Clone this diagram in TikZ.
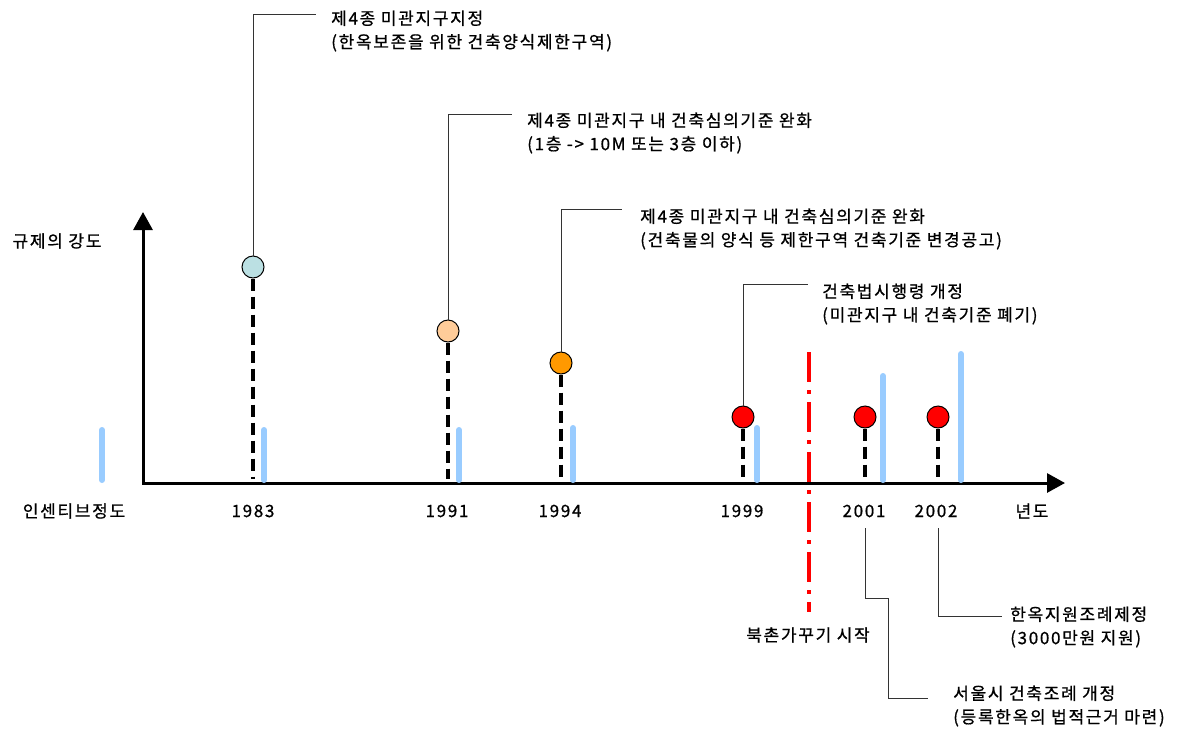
\documentclass[tikz,border=0pt]{standalone}
\usepackage{fontspec}
\setmainfont{Noto Sans CJK KR}[LetterSpace=10,FakeBold=0.8]
\usetikzlibrary{arrows.meta}
\definecolor{barblue}{RGB}{153,204,255}
\definecolor{c83}{RGB}{187,224,227}
\definecolor{c91}{RGB}{255,204,153}
\definecolor{c94}{RGB}{255,153,0}
\definecolor{leadgray}{RGB}{51,51,51}
\tikzset{
  txt/.style={inner sep=0pt, font=\fontsize{17}{23.5}\selectfont, align=left},
  lbl/.style={inner sep=0pt, font=\fontsize{17}{20}\selectfont},
  axis/.style={line width=3pt, line join=miter, {Triangle[length=18pt,width=19pt]}-{Triangle[length=18pt,width=19pt]}},
  dot/.style={circle, draw=black, line width=1pt, minimum size=22pt, inner sep=0pt},
  leader/.style={draw=leadgray, line width=1pt},
  stem/.style={line width=4pt, dash pattern=on 12pt off 6pt},
  bar/.style={draw=barblue, line width=6pt, line cap=round},
  redline/.style={draw=red, line width=4pt, dash pattern=on 30pt off 8pt on 4pt off 8pt}
}
\begin{document}
\begin{tikzpicture}[x=1pt,y=-1pt]
\useasboundingbox (0,0) rectangle (1180,729);
% axes
\coordinate (ytip) at (143,212);
\coordinate (O) at (143,483);
\coordinate (xtip) at (1065,483);
\draw[axis] (ytip) -- (O) -- (xtip);
\node[lbl] (ylab) at (57,241) {규제의 강도};
\node[lbl] (xlab) at (1032,511) {년도};
\node[lbl] (inc) at (74,511) {인센티브정도};
% year labels
\node[lbl] (y83) at (253,511) {1983};
\node[lbl] (y91) at (447,511) {1991};
\node[lbl] (y94) at (560,511) {1994};
\node[lbl] (y99) at (742,511) {1999};
\node[lbl] (y01) at (864,511) {2001};
\node[lbl] (y02) at (936,511) {2002};
% blue bars
\coordinate (b0a) at (102,430); \coordinate (b0b) at (102,480);
\coordinate (b1a) at (264,430); \coordinate (b1b) at (264,480);
\coordinate (b2a) at (459,430); \coordinate (b2b) at (459,480);
\coordinate (b3a) at (573,428); \coordinate (b3b) at (573,480);
\coordinate (b4a) at (757,428); \coordinate (b4b) at (757,480);
\coordinate (b5a) at (883,376); \coordinate (b5b) at (883,480);
\coordinate (b6a) at (961,354); \coordinate (b6b) at (961,480);
\foreach \i in {0,...,6} {\draw[bar] (b\i a) -- (b\i b);}
% red dash-dot line
\coordinate (r1) at (809,352);
\coordinate (r2) at (809,612);
\draw[redline] (r1) -- (r2);
\node[lbl] (buk) at (808,635) {북촌가꾸기 시작};
% circles
\node[dot, fill=c83] (c83) at (253,267) {};
\node[dot, fill=c91] (c91) at (448,331) {};
\node[dot, fill=c94] (c94) at (561,363) {};
\node[dot, fill=red] (c99) at (743,417) {};
\node[dot, fill=red] (c01) at (865,417) {};
\node[dot, fill=red] (c02) at (938,417) {};
% stems
\foreach \c in {83,91,94,99,01,02} {
  \draw[stem] (c\c.south) -- (c\c.south |- 0,479);
}
% top leaders and texts
\coordinate (k83) at (316,14);
\node[txt, anchor=west] (t83) at (331,31) {제4종 미관지구지정\\(한옥보존을 위한 건축양식제한구역)};
\draw[leader] (c83.north) |- (k83);
\coordinate (k91) at (512,114);
\node[txt, anchor=west] (t91) at (527,133) {제4종 미관지구 내 건축심의기준 완화\\(1층 -> 10M 또는 3층 이하)};
\draw[leader] (c91.north) |- (k91);
\coordinate (k94) at (622,209);
\node[txt, anchor=west] (t94) at (640,229) {제4종 미관지구 내 건축심의기준 완화\\(건축물의 양식 등 제한구역 건축기준 변경공고)};
\draw[leader] (c94.north) |- (k94);
\coordinate (k99) at (808,284);
\node[txt, anchor=west] (t99) at (822,304) {건축법시행령 개정\\(미관지구 내 건축기준 폐기)};
\draw[leader] (c99.north) |- (k99);
% bottom leaders
\coordinate (s01) at (865,528);
\coordinate (m01) at (888,598);
\coordinate (k01) at (928,698);
\node[txt, anchor=west] (t01) at (953,706) {서울시 건축조례 개정\\(등록한옥의 법적근거 마련)};
\draw[leader] (s01) |- (m01) |- (k01);
\coordinate (s02) at (938,528);
\coordinate (k02) at (1002,616);
\node[txt, anchor=west] (t02) at (1010,627) {한옥지원조례제정\\(3000만원 지원)};
\draw[leader] (s02) |- (k02);
\end{tikzpicture}
\end{document}
